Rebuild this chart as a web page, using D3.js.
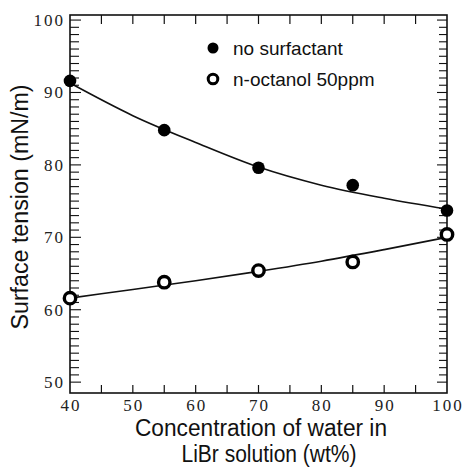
<!DOCTYPE html>
<html>
<head>
<meta charset="utf-8">
<script src="https://cdn.jsdelivr.net/npm/d3@7"></script>
<style>
    body { margin: 0; background: #fff; }
    svg { display: block; }
    .tick-label { font-family: "Liberation Serif", "DejaVu Serif", serif; font-size: 17px; letter-spacing: 2px; fill: #222; }
    .axis-title, .legend-text { font-family: "Liberation Sans", Arial, sans-serif; fill: #111; }
</style>
</head>
<body>
<div id="chart"></div>
<script>

// Data ///////////////////////////////////////////////////////////////////////

const concentration = [40, 55, 70, 85, 100];
const noSurfactant = [91.6, 84.8, 79.6, 77.2, 73.7];
const octanol = [61.6, 63.8, 65.4, 66.6, 70.4];

// fitted curves
const curveX = [40, 50, 60, 70, 80, 90, 100];
const curveNoSurfactant = [91.3, 86.8, 83.1, 79.7, 77.2, 75.4, 73.9];
const curveOctanol = [61.6, 62.8, 64.0, 65.3, 66.7, 68.3, 70.0];

const xTickLabels = [40, 50, 60, 70, 80, 90, 100];
const yTickLabels = [50, 60, 70, 80, 90, 100];

const legendLabels = ["no surfactant", "n-octanol 50ppm"];

const params = {
    width: 465,
    height: 467,
    left: 70,
    right: 447,
    top: 15,
    bottom: 393,
    markerR: 6.3
};


// Scales /////////////////////////////////////////////////////////////////////

const x = d3.scaleLinear()
    .domain([40, 100])
    .range([params.left, params.right]);

const y = d3.scaleLinear()
    .domain([48.5, 100.7])
    .range([params.bottom, params.top]);

const svg = d3.select("#chart")
    .append("svg")
        .attr("width", params.width)
        .attr("height", params.height)
        .attr("viewBox", [0, 0, params.width, params.height]);


// Frame and ticks ////////////////////////////////////////////////////////////

const frame = svg.append("g")
    .attr("stroke", "#111")
    .attr("fill", "none");

frame.append("rect")
    .attr("x", params.left)
    .attr("y", params.top)
    .attr("width", params.right - params.left)
    .attr("height", params.bottom - params.top)
    .attr("stroke-width", 1.6);

const xMinor = d3.range(45, 100, 5);
const yMinor = d3.range(50, 101, 1);

// bottom and top ticks, pointing inward
frame.append("g")
    .selectAll("line")
    .data(xMinor)
    .join("line")
    .attr("x1", d => x(d)).attr("x2", d => x(d))
    .attr("y1", params.bottom).attr("y2", params.bottom - 8)
    .attr("stroke-width", 1.2);

frame.append("g")
    .selectAll("line")
    .data(xMinor)
    .join("line")
    .attr("x1", d => x(d)).attr("x2", d => x(d))
    .attr("y1", params.top).attr("y2", params.top + 9)
    .attr("stroke-width", 1.2);

// left and right ticks
frame.append("g")
    .selectAll("line")
    .data(yMinor)
    .join("line")
    .attr("x1", params.left).attr("x2", d => params.left + (d % 10 === 0 ? 11 : 9))
    .attr("y1", d => y(d)).attr("y2", d => y(d))
    .attr("stroke-width", 1.1);

frame.append("g")
    .selectAll("line")
    .data(yMinor)
    .join("line")
    .attr("x1", params.right).attr("x2", d => params.right - (d % 10 === 0 ? 10 : 8))
    .attr("y1", d => y(d)).attr("y2", d => y(d))
    .attr("stroke-width", 1.1);

// tick labels
svg.append("g")
    .selectAll("text")
    .data(xTickLabels)
    .join("text")
    .attr("class", "tick-label")
    .attr("x", d => x(d) + 1)
    .attr("y", params.bottom + 18)
    .attr("text-anchor", "middle")
    .text(d => d);

svg.append("g")
    .selectAll("text")
    .data(yTickLabels)
    .join("text")
    .attr("class", "tick-label")
    .attr("x", params.left - 5)
    .attr("y", d => y(d) + 6)
    .attr("text-anchor", "end")
    .text(d => d);


// Axis titles ////////////////////////////////////////////////////////////////

svg.append("text")
    .attr("class", "axis-title")
    .attr("transform", "translate(28, 207) rotate(-90)")
    .attr("text-anchor", "middle")
    .attr("font-size", 23.5)
    .attr("textLength", 245)
    .attr("lengthAdjust", "spacingAndGlyphs")
    .text("Surface tension (mN/m)");

svg.append("text")
    .attr("class", "axis-title")
    .attr("x", 261)
    .attr("y", 436)
    .attr("text-anchor", "middle")
    .attr("font-size", 23.5)
    .attr("textLength", 252)
    .attr("lengthAdjust", "spacingAndGlyphs")
    .text("Concentration of water in");

svg.append("text")
    .attr("class", "axis-title")
    .attr("x", 269)
    .attr("y", 462)
    .attr("text-anchor", "middle")
    .attr("font-size", 23.5)
    .attr("textLength", 175)
    .attr("lengthAdjust", "spacingAndGlyphs")
    .text("LiBr solution (wt%)");


// Curves and points //////////////////////////////////////////////////////////

const line = d3.line()
    .x(d => x(d[0]))
    .y(d => y(d[1]))
    .curve(d3.curveMonotoneX);

svg.append("path")
    .datum(d3.zip(curveX, curveNoSurfactant))
    .attr("d", line)
    .attr("fill", "none")
    .attr("stroke", "#111")
    .attr("stroke-width", 1.6);

svg.append("path")
    .datum(d3.zip(curveX, curveOctanol))
    .attr("d", line)
    .attr("fill", "none")
    .attr("stroke", "#111")
    .attr("stroke-width", 1.6);

svg.append("g")
    .selectAll("circle")
    .data(d3.zip(concentration, noSurfactant))
    .join("circle")
    .attr("cx", d => x(d[0]))
    .attr("cy", d => y(d[1]))
    .attr("r", params.markerR)
    .attr("fill", "#000");

svg.append("g")
    .selectAll("circle")
    .data(d3.zip(concentration, octanol))
    .join("circle")
    .attr("cx", d => x(d[0]))
    .attr("cy", d => y(d[1]))
    .attr("r", params.markerR - 0.6)
    .attr("fill", "#fff")
    .attr("stroke", "#000")
    .attr("stroke-width", 3.4);


// Legend /////////////////////////////////////////////////////////////////////

const legend = svg.append("g")
    .attr("transform", "translate(213, 48)");

legendLabels.forEach((label, i) => {
    const row = legend.append("g")
        .attr("transform", `translate(0, ${ i * 31 })`);

    row.append("circle")
        .attr("r", i === 0 ? 5.5 : 4.8)
        .attr("fill", i === 0 ? "#000" : "#fff")
        .attr("stroke", i === 0 ? "none" : "#000")
        .attr("stroke-width", 3);

    row.append("text")
        .attr("class", "legend-text")
        .attr("x", 20)
        .attr("y", 7)
        .attr("font-size", 19)
        .text(label);
});

</script>
</body>
</html>
